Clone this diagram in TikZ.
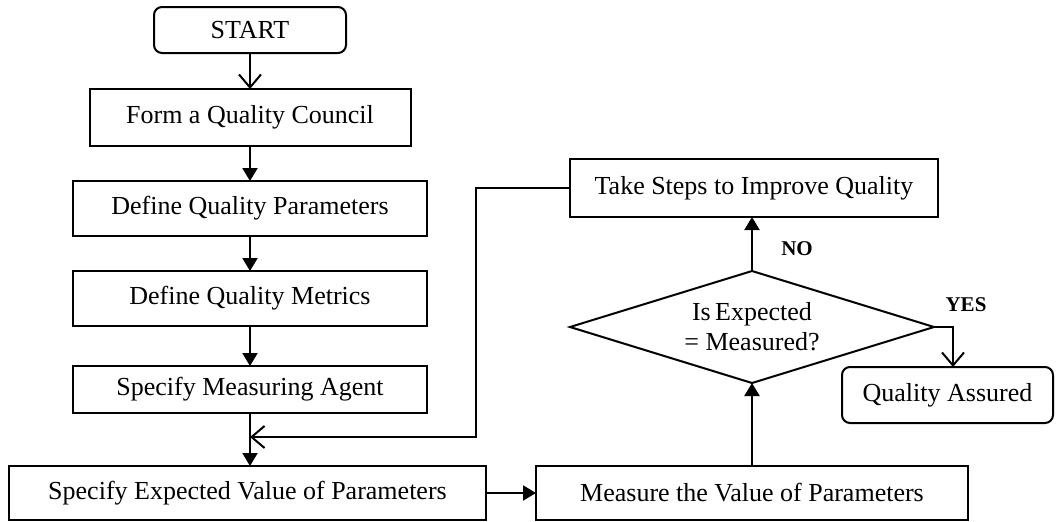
\documentclass[tikz,border=0pt]{standalone}
\usepackage{fontspec}
\setmainfont{Liberation Serif}
\usetikzlibrary{shapes.geometric,arrows.meta}

\begin{document}
\begin{tikzpicture}[x=0.5pt, y=-0.5pt, line width=1pt,
  every node/.style={font=\fontsize{13}{15}\selectfont, inner sep=0pt, outer sep=0pt},
  block/.style={draw, rectangle, minimum width=177pt, minimum height=27.5pt},
  terminal/.style={draw, rectangle, rounded corners=4pt, minimum height=28pt},
  decision/.style={draw, diamond, aspect=3.25, minimum width=182pt, minimum height=56pt, align=center},
  answer/.style={font=\fontsize{10.5}{12}\selectfont\bfseries},
  flow/.style={-{Triangle[width=7.5pt,length=6.5pt]}},
  back/.style={-{Straight Barb[width=11pt,length=6.5pt]}}]
  \useasboundingbox (0,0) rectangle (1056,521);

  % left column
  \node[terminal, minimum width=96pt, minimum height=23pt] (start) at (250,30) {START};
  \node[block, minimum width=160.5pt, minimum height=28.5pt] (council) at (250,117.5) {Form a Quality Council};
  \node[block] (params) at (250,208.5) {Define Quality Parameters};
  \node[block] (metrics) at (250,298.5) {Define Quality Metrics};
  \node[block, minimum height=23.5pt] (agent) at (250,389.5) {Specify Measuring Agent};
  \node[block, minimum width=238.5pt, minimum height=27pt] (expected) at (247.5,493) {Specify Expected Value of Parameters};

  % right column
  \node[block, minimum width=216pt, minimum height=27pt] (measure) at (752,493) {Measure the Value of Parameters};
  \node[decision] (check) at (752,327) {Is\,Expected\\= Measured?};
  \node[block, minimum width=184pt, minimum height=29pt] (improve) at (754,188) {Take Steps to Improve Quality};
  \node[terminal, minimum width=105.5pt] (assured) at (947.5,395) {Quality Assured};

  \node[answer] (no) at (797,249) {NO};
  \node[answer] (yes) at (966,305) {YES};

  \coordinate (loop) at (476,437);
  \coordinate (turn) at (953,327);

  \draw[back] (start) -- (council);
  \draw[flow] (council) -- (params);
  \draw[flow] (params) -- (metrics);
  \draw[flow] (metrics) -- (agent);
  \draw[flow] (agent.south) -- (agent.south |- expected.north);
  \draw[flow] (expected) -- (measure);
  \draw[flow] (measure) -- (check);
  \draw[flow] (check.north) -- (check.north |- improve.south);
  \draw[back] (improve.west) -| (loop) -- (loop -| agent.south);
  \draw[back] (check.east) -- (turn) -- (turn |- assured.north);
\end{tikzpicture}
\end{document}
